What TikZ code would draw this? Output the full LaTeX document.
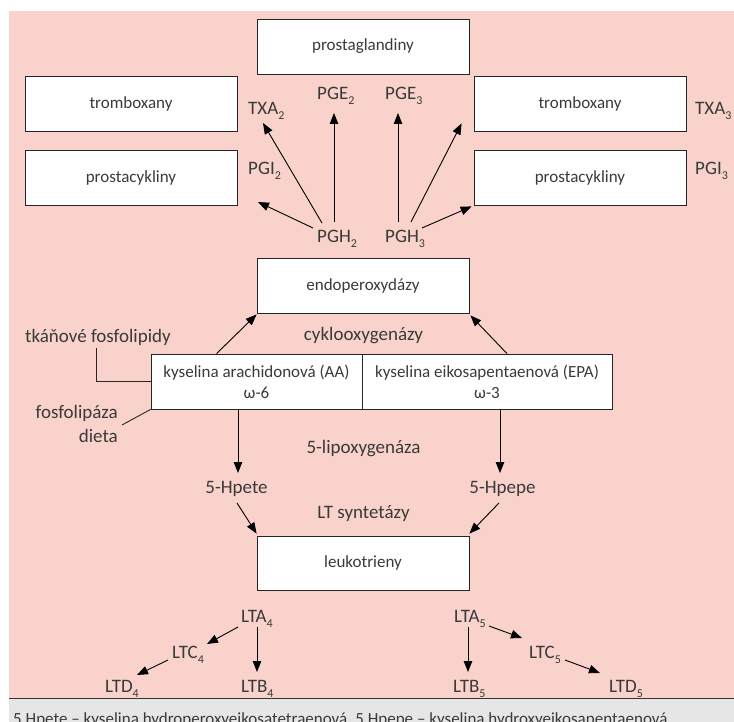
\documentclass[tikz,border=0pt]{standalone}
\usepackage{fontspec}
\setmainfont{Carlito}
\usetikzlibrary{arrows.meta,calc}
\definecolor{bgpink}{HTML}{F9D2CB}
\definecolor{txt}{HTML}{3A3A3A}
\definecolor{stripgray}{HTML}{E6E6E6}
\newcommand\lsub[1]{\raisebox{-5pt}{\fontsize{12}{12}\selectfont #1}}
\begin{document}
\begin{tikzpicture}[x=1pt,y=-1pt,
  box/.style={draw=black!85, line width=0.8pt, fill=white, minimum width=212pt, minimum height=55pt,
              inner sep=0pt, text=txt, font=\fontsize{17}{21}\selectfont, align=center},
  lab/.style={inner sep=0pt, text=txt, font=\fontsize{19}{22}\selectfont},
  arr/.style={-{Triangle[length=11pt,width=8.5pt]}, line width=0.9pt, black},
  ln/.style={line width=0.9pt, black!85}]
\useasboundingbox (0,0) rectangle (734,722);
\fill[white] (0,0) rectangle (734,722);
\fill[bgpink] (9,11) rectangle (734,698);
\fill[stripgray] (9,698) rectangle (734,722);
\draw[line width=1pt, black!80] (9,698.5) -- (734,698.5);
\begin{scope}
\clip (9,699) rectangle (734,722);
\node[lab, font=\fontsize{17}{20}\selectfont, anchor=base west] (legend) at (13,724)
  {5 Hpete – kyselina hydroperoxyeikosatetraenová, 5 Hpepe – kyselina hydroxyeikosapentaenová};
\end{scope}

% boxes
\node[box] (prost) at (363,46.5) {prostaglandiny};
\node[box] (tromL) at (131,103.5) {tromboxany};
\node[box] (pcL) at (131,177.5) {prostacykliny};
\node[box] (tromR) at (580,103.5) {tromboxany};
\node[box] (pcR) at (580,177.5) {prostacykliny};
\node[box] (endo) at (363,285.5) {endoperoxydázy};
\node[box, minimum width=211pt] (AA) at (256.5,381.5) {kyselina arachidonová (AA)\\ω-6};
\node[box, minimum width=250pt] (EPA) at (487,381.5) {kyselina eikosapentaenová (EPA)\\ω-3};
\node[box, minimum height=54pt] (leuko) at (363,563) {leukotrieny};

% labels
\node[lab, anchor=base west] (TXA2) at (248,115) {TXA\lsub{2}};
\node[lab, anchor=base west] (PGE2) at (317,100) {PGE\lsub{2}};
\node[lab, anchor=base west] (PGI2) at (248,175) {PGI\lsub{2}};
\node[lab, anchor=base west] (PGH2) at (317,243) {PGH\lsub{2}};
\node[lab, anchor=base west] (PGE3) at (385,100) {PGE\lsub{3}};
\node[lab, anchor=base west] (TXA3) at (695,115) {TXA\lsub{3}};
\node[lab, anchor=base west] (PGI3) at (695,175) {PGI\lsub{3}};
\node[lab, anchor=base west] (PGH3) at (385,243) {PGH\lsub{3}};

\node[lab, anchor=base] (cyclo) at (363.5,341) {cyklooxygenázy};
\node[lab, anchor=base] (lipox) at (363.5,453) {5-lipoxygenáza};
\node[lab, anchor=base] (ltsyn) at (363.5,518) {LT syntetázy};
\node[lab, anchor=base west] (tk) at (25,342) {tkáňové fosfolipidy};
\node[lab, anchor=base east] (fos) at (118,418) {fosfolipáza};
\node[lab, anchor=base east] (dieta) at (118,442) {dieta};
\node[lab, anchor=base] (hpete) at (236.5,493) {5-Hpete};
\node[lab, anchor=base] (hpepe) at (502.5,493) {5-Hpepe};

\node[lab, anchor=base west] (LTA4) at (241,622) {LTA\lsub{4}};
\node[lab, anchor=base west] (LTC4) at (172,658) {LTC\lsub{4}};
\node[lab, anchor=base west] (LTD4) at (105,692) {LTD\lsub{4}};
\node[lab, anchor=base west] (LTB4) at (241,692) {LTB\lsub{4}};
\node[lab, anchor=base west] (LTA5) at (454,622) {LTA\lsub{5}};
\node[lab, anchor=base west] (LTC5) at (529,658) {LTC\lsub{5}};
\node[lab, anchor=base west] (LTB5) at (453,692) {LTB\lsub{5}};
\node[lab, anchor=base west] (LTD5) at (609,692) {LTD\lsub{5}};

% arrows top
\draw[arr] ($(PGH2.base west)+(5,-20)$) -- ($(TXA2.base west)+(15,8)$);
\draw[arr] ($(PGH2.base west)+(17,-21)$) -- ($(PGE2.base west)+(17,13)$);
\draw[arr] ($(PGH2.base west)+(-4,-15)$) -- ($(PGI2.base west)+(10,27)$);
\draw[arr] ($(PGH3.base west)+(13,-21)$) -- ($(PGE3.base west)+(13,13)$);
\draw[arr] ($(PGH3.base west)+(26,-21)$) -- ($(tromR.south west)+(-12,-8)$);
\draw[arr] ($(PGH3.base west)+(37,-15)$) -- ($(pcR.south west)+(-2,1)$);

% middle
\draw[arr] ($(AA.north west)+(66,0)$) -- ($(endo.south west)+(0,1)$);
\draw[arr] ($(EPA.north)+(20,0)$) -- ($(endo.south east)+(1,2)$);
\draw[arr] ($(AA.south)+(-18.5,0)$) -- ($(hpete.base)+(1.5,-20)$);
\draw[arr] ($(EPA.south)+(13,0)$) -- ($(hpepe.base)+(-2.5,-20)$);
\draw[arr] ($(hpete.base)+(0.5,10)$) -- ($(leuko.north west)+(0,-2)$);
\draw[arr] ($(hpepe.base)+(-3.5,10)$) -- ($(leuko.north east)+(0,-2)$);

\draw[ln] ($(tk.base west)+(71,6)$) |- (AA.west);
\draw[ln] ($(fos.base east)+(4,7)$) -- (AA.south west);

% bottom
\draw[arr] ($(LTA4.base west)+(-3,5)$) -- ($(LTC4.base west)+(35,-14)$);
\draw[arr] ($(LTC4.base west)+(-4,2)$) -- ($(LTD4.base west)+(32,-17)$);
\draw[arr] ($(LTA4.base west)+(16,5)$) -- ($(LTB4.base west)+(16,-20)$);
\draw[arr] ($(LTA5.base west)+(35,4)$) -- ($(LTC5.base west)+(-7,-20)$);
\draw[arr] ($(LTC5.base west)+(36,2)$) -- ($(LTD5.base west)+(-9,-19)$);
\draw[arr] ($(LTA5.base west)+(14,5)$) -- ($(LTB5.base west)+(15,-20)$);
\end{tikzpicture}
\end{document}
